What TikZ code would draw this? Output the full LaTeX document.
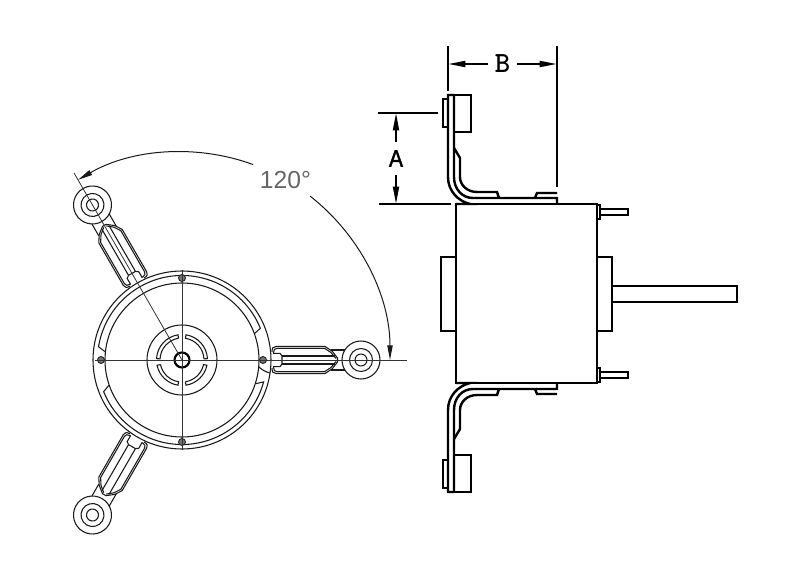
\documentclass[tikz,border=0pt]{standalone}
\usepackage{fontspec}
\newfontfamily\dimfont{Liberation Sans}
\newfontfamily\capfont[FakeBold=1.5,FakeStretch=0.88]{Liberation Sans}
\usetikzlibrary{arrows.meta}
\tikzset{
	thinline/.style={draw=black!90,line width=0.8pt},
	axisline/.style={draw=black!80,line width=0.6pt},
	heavyline/.style={draw=black,line width=1.8pt},
	pinline/.style={draw=black,line width=0.8pt},
	dimline/.style={draw=black,line width=1.5pt,-{Triangle[length=13pt,width=4.5pt]}},
	extline/.style={draw=black,line width=1.6pt},
	anglearrow/.style={draw=black!90,line width=0.75pt,-{Triangle[length=11pt,width=4pt]}},
	screw/.style={draw=black!85,fill=black!55,line width=0.7pt},
}
\begin{document}
\begin{tikzpicture}[x=0.75pt,y=0.75pt]
	\useasboundingbox (0,0) rectangle (800,569);
	% end view
	\begin{scope}[shift={(182,209)}]
		\path[thinline] (0,0) circle[radius=89];
		\path[thinline] (0,0) circle[radius=77];
		\path[thinline] (0,0) circle[radius=35];
		\path[draw=black,line width=1.6pt] (0,0) circle[radius=7.5];
		% band between the two rings
		\path[thinline] (20:77) -- (22:84.5) arc[start angle=22,end angle=171,radius=84.5] -- (174:77);
		\path[thinline] (199:77) -- (202:84.5) arc[start angle=202,end angle=345,radius=84.5] -- (342:77);
		\path[thinline] (77,-7) .. controls (80,-10) and (84,-12) .. (88,-13);
		% split ring of the hub
		\foreach \angA/\angB in {3/81,99/177,192/261,279/348} {
			\path[thinline] (\angA:22) -- (\angA:25.5) arc[start angle=\angA,end angle=\angB,radius=25.5]
				-- (\angB:22) arc[start angle=\angB,end angle=\angA,radius=22];
		}
		% screws
		\path[screw] (81,0) circle[radius=3.5];
		\path[screw] (-81,0) circle[radius=3.5];
		\path[screw] (0,82) circle[radius=3.5];
		\path[screw] (0,-82) circle[radius=3.5];
		% the three arms
		\foreach \armang in {0,120,240} {
			\begin{scope}[rotate=\armang]
				\path[thinline] (179,0) circle[radius=19];
				\path[thinline] (179,0) circle[radius=11.5];
				\path[thinline] (179,0) circle[radius=6];
				\foreach \side in {1,-1} {
					\begin{scope}[yscale=\side]
						\path[thinline] (90,8) .. controls (90,12) and (91,13.5) .. (94,13.5) -- (143,13.5)
							-- (150,9) -- (155.5,2) -- (155.5,0);
						\path[thinline] (91.5,7) .. controls (91.5,10) and (92.5,11.7) .. (95,11.7) -- (142.5,11.7)
							-- (149,7.5) -- (154,1.5);
						\path[thinline] (91,6.7) -- (98,6.7) -- (100,4) -- (100,0);
						\path[thinline] (100,4) -- (153,4);
						\path[thinline] (149,10) -- (163,10);
					\end{scope}
				}
			\end{scope}
		}
		% centre lines
		\path[axisline] (-87,0) -- (225,0);
		\path[axisline] (0,-90) -- (0,90);
		\path[axisline] (0,0) -- (120:216);
		% angle
		\path[anglearrow] (52:208) arc[start angle=52,end angle=0,radius=208];
		\path[anglearrow] (70:208) arc[start angle=70,end angle=120,radius=208];
	\end{scope}
	\node[text=black!60,font=\dimfont\fontsize{18.5pt}{20pt}\selectfont] (angletext) at (285.5,389) {120°};

	% side view
	\path[heavyline] (456,186) rectangle (597,365);
	\path[heavyline] (441,238) rectangle (456,312);
	\path[heavyline] (597,238) rectangle (612,312);
	\path[heavyline] (612,267) rectangle (737,283);
	% studs on the end bell
	\foreach \studY in {357,194} {
		\path[pinline] (597,\studY-7) rectangle (600,\studY+7);
		\path[pinline] (600,\studY-3) rectangle (628,\studY+3);
	}
	% upper and lower bracket
	\foreach \flip/\off in {1/0,-1/551} {
		\begin{scope}[shift={(0,\off)},yscale=\flip]
			\path[heavyline] (456,365) -- (470,365) .. controls (458,368) and (448,378) .. (448,392) -- (448,474) -- (454,474);
			\path[heavyline] (454,474) -- (454,392) .. controls (454,380) and (462,371) .. (473,371) -- (557,371) -- (557,365);
			\path[heavyline] (454,421) -- (460,411) -- (460,392) .. controls (460,384) and (467,377) .. (477,377) -- (497,377) -- (499,371);
			\path[heavyline] (535,371) -- (537,376) -- (557,376);
			\path[heavyline] (454,474) rectangle (471,437);
			\path[heavyline] (443,470) rectangle (448,442);
		\end{scope}
	}

	% dimensions
	\node[font=\capfont\fontsize{18pt}{20pt}\selectfont,minimum height=24pt,inner sep=0pt] (dimA) at (396,410.5) {A};
	\node[font=\ttfamily\bfseries\fontsize{22pt}{24pt}\selectfont,minimum width=21pt,inner sep=0pt] (dimB) at (502.5,505) {B};
	\coordinate (atop) at (396,456);
	\coordinate (abot) at (396,365);
	\coordinate (bleft) at (448,505);
	\coordinate (bright) at (557,505);
	\path[dimline] (dimA) -- (atop);
	\path[dimline] (dimA) -- (abot);
	\path[dimline] (dimB) -- (bleft);
	\path[dimline] (dimB) -- (bright);
	\path[extline] (378,456) -- (438,456);
	\path[extline] (379,365) -- (451,365);
	\path[extline] (448,523) -- (448,478);
	\path[extline] (557,523) -- (557,382);
\end{tikzpicture}
\end{document}
